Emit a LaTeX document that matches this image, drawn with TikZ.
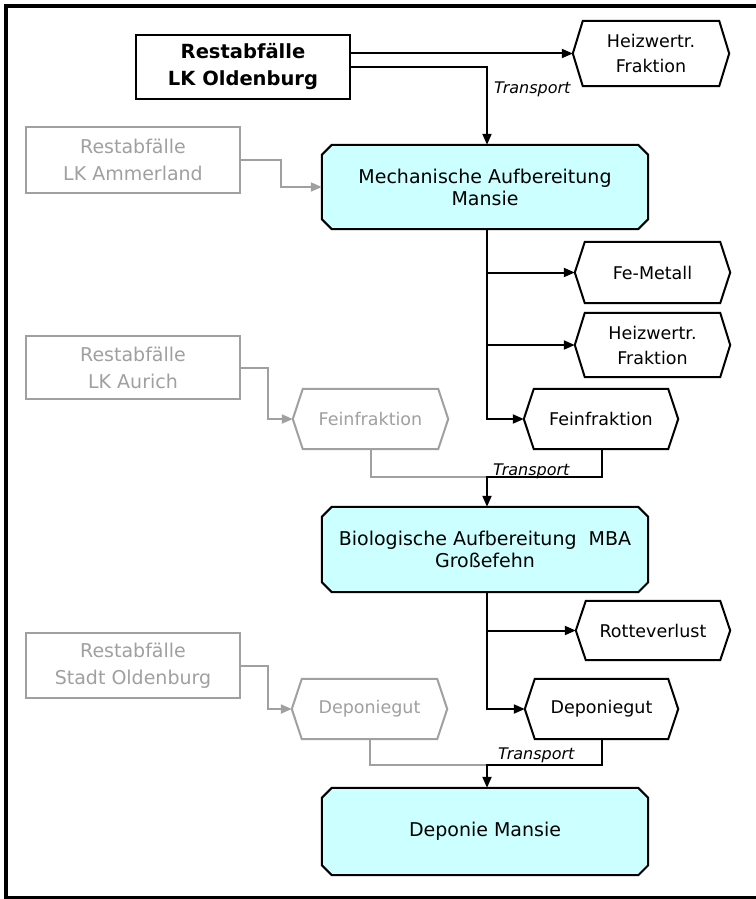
\documentclass[tikz,border=0pt]{standalone}
\usepackage{fontspec}
\setmainfont{DejaVu Sans}
\usetikzlibrary{arrows.meta,calc}
\pgfdeclarelayer{back}
\pgfdeclarelayer{bg}
\pgfsetlayers{back,bg,main}
\definecolor{cyanfill}{HTML}{CCFFFF}
\definecolor{grayc}{HTML}{A0A0A0}
\tikzset{
  lbl/.style={inner sep=0pt, align=center, draw=none},
  cyanbox/.style={lbl, minimum width=326pt, font=\fontsize{19}{22}\selectfont},
  srcbox/.style={lbl, draw=black, line width=2pt, minimum width=214pt, font=\bfseries\fontsize{19.5}{27}\selectfont},
  graybox/.style={lbl, draw=grayc, line width=2pt, minimum width=214pt, text=grayc, font=\fontsize{19}{27}\selectfont},
  hexbox/.style={lbl, font=\fontsize{17.5}{25}\selectfont},
  ghexbox/.style={hexbox, text=grayc},
  tlabel/.style={inner sep=0pt, font=\itshape\fontsize{16}{18}\selectfont},
  wire/.style={line width=2pt},
  gwire/.style={wire, grayc},
  conn/.style={wire, -{Triangle[length=11pt,width=9pt]}},
  gconn/.style={conn, grayc},
  cyanshape/.style={draw=black, line width=2pt, fill=cyanfill},
  hexline/.style={draw=black, line width=2pt},
  ghexline/.style={draw=grayc, line width=2pt}
}
\newcommand\chamfshape[1]{%
  \begin{pgfonlayer}{bg}
  \path[cyanshape] ([xshift=10pt]#1.north west) -- ([xshift=-10pt]#1.north east) -- ([yshift=-10pt]#1.north east)
    -- ([yshift=10pt]#1.south east) -- ([xshift=-10pt]#1.south east) -- ([xshift=10pt]#1.south west)
    -- ([yshift=10pt]#1.south west) -- ([yshift=-10pt]#1.north west) -- cycle;
  \end{pgfonlayer}}
\newcommand\hexshape[2]{%
  \path[#2] (#1.west) -- ([xshift=10pt]#1.north west) -- ([xshift=-10pt]#1.north east) -- (#1.east)
    -- ([xshift=-10pt]#1.south east) -- ([xshift=10pt]#1.south west) -- cycle;}
\begin{document}
\begin{tikzpicture}[x=1pt,y=-1pt]
\useasboundingbox (0,0) rectangle (755,899);
\begin{pgfonlayer}{back}
\fill[white] (0,0) rectangle (755,899);
\end{pgfonlayer}
\draw[line width=4pt] (6,6) rectangle (760,898);

% nodes
\node[srcbox, minimum height=64pt] (lkold) at (243,67) {Restabfälle\\LK Oldenburg};
\node[hexbox, minimum width=156pt, minimum height=65pt] (hz1) at (651,53.5) {Heizwertr.\\Fraktion};
\node[graybox, minimum height=66pt] (amm) at (133,160) {Restabfälle\\LK Ammerland};
\node[cyanbox, minimum height=84pt] (mech) at (485,187) {Mechanische Aufbereitung\\Mansie};
\node[hexbox, minimum width=155pt, minimum height=61pt] (fe) at (652.5,272.5) {Fe-Metall};
\node[hexbox, minimum width=155pt, minimum height=64pt] (hz2) at (652.5,345) {Heizwertr.\\Fraktion};
\node[hexbox, minimum width=154pt, minimum height=60pt] (fein) at (601,419) {Feinfraktion};
\node[graybox, minimum height=63pt] (aur) at (133,367.5) {Restabfälle\\LK Aurich};
\node[ghexbox, minimum width=155pt, minimum height=60pt] (gfein) at (370.5,419) {Feinfraktion};
\node[cyanbox, minimum height=85pt] (bio) at (485,549.5) {Biologische Aufbereitung\ \ MBA\\Großefehn};
\node[hexbox, minimum width=154pt, minimum height=59pt] (rot) at (653,630.5) {Rotteverlust};
\node[hexbox, minimum width=153pt, minimum height=60pt] (dep) at (601.5,709) {Deponiegut};
\node[graybox, minimum height=65pt] (stadt) at (133,665.5) {Restabfälle\\Stadt Oldenburg};
\node[ghexbox, minimum width=155pt, minimum height=60pt] (gdep) at (369.5,709) {Deponiegut};
\node[cyanbox, minimum height=87pt] (depm) at (485,831.5) {Deponie Mansie};

% shapes
\chamfshape{mech}
\chamfshape{bio}
\chamfshape{depm}
\hexshape{hz1}{hexline}
\hexshape{fe}{hexline}
\hexshape{hz2}{hexline}
\hexshape{fein}{hexline}
\hexshape{rot}{hexline}
\hexshape{dep}{hexline}
\hexshape{gfein}{ghexline}
\hexshape{gdep}{ghexline}

% labels
\node[tlabel, anchor=base west] (t1) at (494,93) {Transport};
\node[tlabel, anchor=base west] (t2) at (493,475) {Transport};
\node[tlabel, anchor=base west] (t3) at (498,759) {Transport};

% connectors
\draw[conn] (lkold.east |- hz1.west) -- (hz1.west);
\draw[conn] (lkold.east) -| ([xshift=2pt]mech.north);
\draw[gconn] (amm.east) -- ++(40,0) |- (mech.west);

\coordinate (mb) at ([xshift=2pt]mech.south);
\draw[conn] (mb) |- (fein.west);
\draw[conn] (mb |- fe.west) -- (fe.west);
\draw[conn] (mb |- hz2.west) -- (hz2.west);
\draw[gconn] (aur.east) -- ++(27,0) |- (gfein.west);

\coordinate (j1) at (487,477);
\draw[gwire] (gfein.south) |- (j1);
\draw[conn] ([xshift=1pt]fein.south) |- (j1) -- ([xshift=2pt]bio.north);

\coordinate (bb) at ([xshift=2pt]bio.south);
\draw[conn] (bb) |- (dep.west);
\draw[conn] (bb |- rot.west) -- (rot.west);
\draw[gconn] (stadt.east) -- ++(27,0) |- (gdep.west);

\coordinate (j2) at (487,765);
\draw[gwire] (gdep.south) |- (j2);
\draw[conn] (dep.south) |- (j2) -- ([xshift=2pt]depm.north);
\end{tikzpicture}
\end{document}
